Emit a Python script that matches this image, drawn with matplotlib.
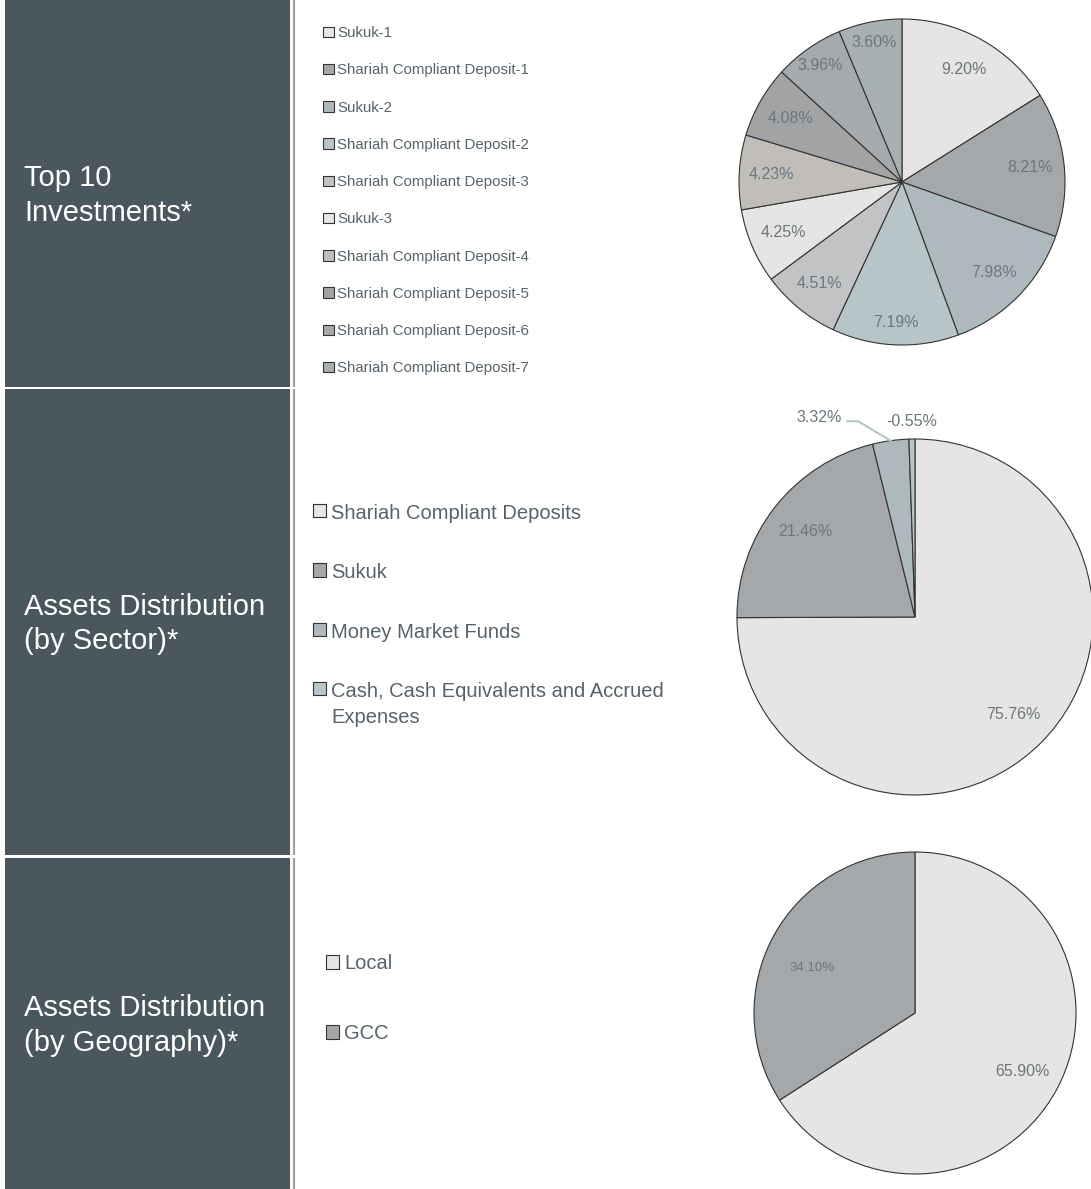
import matplotlib.pyplot as plt
import numpy as np
from matplotlib.patches import Rectangle, Patch

plt.rcParams['font.family'] = ['Liberation Sans', 'DejaVu Sans']

W, H, DPI = 1091, 1189, 100

## DATA
top10_names = ['Sukuk-1', 'Shariah Compliant Deposit-1', 'Sukuk-2',
               'Shariah Compliant Deposit-2', 'Shariah Compliant Deposit-3',
               'Sukuk-3', 'Shariah Compliant Deposit-4', 'Shariah Compliant Deposit-5',
               'Shariah Compliant Deposit-6', 'Shariah Compliant Deposit-7']
top10_pct = [9.20, 8.21, 7.98, 7.19, 4.51, 4.25, 4.23, 4.08, 3.96, 3.60]
top10_colors = ['#E6E5E3', '#A5A8AA', '#AEB9BD', '#B7C5C9', '#C2C3C5',
                '#E6E5E3', '#C1BEB9', '#A2A3A5', '#A6AAAC', '#A9B0B2']

sector_names = ['Shariah Compliant Deposits', 'Sukuk', 'Money Market Funds',
                'Cash, Cash Equivalents and Accrued\nExpenses']
sector_pct = [75.76, 21.46, 3.32, -0.55]
sector_colors = ['#E6E5E3', '#A5A8AA', '#AEB9BD', '#B7C5C9']

geo_names = ['Local', 'GCC']
geo_pct = [65.90, 34.10]
geo_colors = ['#E6E5E3', '#A5A8AA']

panel_titles = ['Top 10\nInvestments*', 'Assets Distribution\n(by Sector)*',
                'Assets Distribution\n(by Geography)*']

##STYLE
PANEL = '#4A575E'
EDGE = '#333333'
LBL = '#6B777D'
LEG = '#56636A'
panel_rows = [(0, 387), (389, 855), (858, 1189)]
# label distance per slice (excel "best fit" puts some further out)
top10_dist = [0.79, 0.79, 0.79, 0.86, 0.80, 0.79, 0.80, 0.79, 0.87, 0.87]


def fx(x):
    return x / W


def fy(y):
    return 1 - y / H


fig = plt.figure(figsize=(W / DPI, H / DPI), dpi=DPI)
fig.patch.set_facecolor('white')

##LEFT PANELS
bg = fig.add_axes([0, 0, 1, 1])
bg.set_xlim(0, W)
bg.set_ylim(H, 0)
bg.axis('off')
for (y0, y1), title in zip(panel_rows, panel_titles):
    bg.add_patch(Rectangle((5, y0), 285, y1 - y0, facecolor=PANEL, lw=0))
    bg.plot([294, 294], [y0, y1], color='#A0A0A0', lw=1.6, solid_capstyle='butt')
    bg.text(24, (y0 + y1) / 2 + 2, title, color='white', fontsize=21,
            ha='left', va='center', linespacing=1.3)


##PIES
def pie_axes(cx, cy, r):
    ax = fig.add_axes([fx(cx - r), fy(cy + r), 2 * r / W, 2 * r / H])
    return ax


def draw_pie(ax, values, colors):
    wedges, _ = ax.pie([abs(v) for v in values], colors=colors, startangle=90,
                       counterclock=False,
                       wedgeprops=dict(edgecolor=EDGE, linewidth=0.8))
    ax.set_xlim(-1, 1)
    ax.set_ylim(-1, 1)
    ax.set_aspect('auto')
    ax.axis('off')
    return wedges


def mid(w):
    return np.radians((w.theta1 + w.theta2) / 2)


ax1 = pie_axes(902, 182, 163)
w1 = draw_pie(ax1, top10_pct, top10_colors)
for w, v, d in zip(w1, top10_pct, top10_dist):
    a = mid(w)
    ax1.text(d * np.cos(a), d * np.sin(a), f'{v:.2f}%', color=LBL,
             fontsize=11.5, ha='center', va='center')

ax2 = pie_axes(915, 617, 178)
w2 = draw_pie(ax2, sector_pct, sector_colors)
for i in (0, 1):
    a = mid(w2[i])
    ax2.text(0.78 * np.cos(a), 0.78 * np.sin(a), f'{sector_pct[i]:.2f}%',
             color=LBL, fontsize=11.5, ha='center', va='center')
# small slice with leader line
a = mid(w2[2])
ax2.plot([np.cos(a), -0.32, -0.38], [np.sin(a), 1.10, 1.10],
         color=sector_colors[3], lw=1.5, clip_on=False)
ax2.text(-0.41, 1.12, f'{sector_pct[2]:.2f}%', color=LBL, fontsize=11.5,
         ha='right', va='center', clip_on=False)
a = mid(w2[3])
ax2.text(1.11 * np.cos(a), 1.10 * np.sin(a), f'{sector_pct[3]:.2f}%', color=LBL,
         fontsize=11.5, ha='center', va='center', clip_on=False)

ax3 = pie_axes(915, 1013, 161)
w3 = draw_pie(ax3, geo_pct, geo_colors)
for w, v, fs, d, rot in zip(w3, geo_pct, [11.5, 9.5], [0.76, 0.70], [0, 5]):
    a = mid(w) + np.radians(rot)
    ax3.text(d * np.cos(a), d * np.sin(a), f'{v:.2f}%', color=LBL,
             fontsize=fs, ha='center', va='center')


##LEGENDS
def legend(names, colors, x, ytop, fs, hs, spacing):
    handles = [Patch(facecolor=c, edgecolor=EDGE, linewidth=0.8) for c in colors]
    leg = fig.legend(handles, names, loc='upper left', bbox_to_anchor=(fx(x), fy(ytop)),
                     frameon=False, borderpad=0, borderaxespad=0, fontsize=fs,
                     handlelength=hs, handleheight=hs, handletextpad=0.25,
                     labelspacing=spacing, labelcolor=LEG)
    return leg


legend(top10_names, top10_colors, 323, 26, 10.8, 0.7, 1.55)
leg2 = legend(sector_names, sector_colors, 313, 504, 14.5, 0.65, 2.0)
leg2.get_texts()[3].set_linespacing(1.45)
# keep the marker on the first line of the wrapped entry
for col in leg2._legend_handle_box.get_children():
    for item in col.get_children():
        item.align = 'top'
legend(geo_names, geo_colors, 326, 954, 14.5, 0.65, 2.54)

fig.savefig('out.png', dpi=DPI)
